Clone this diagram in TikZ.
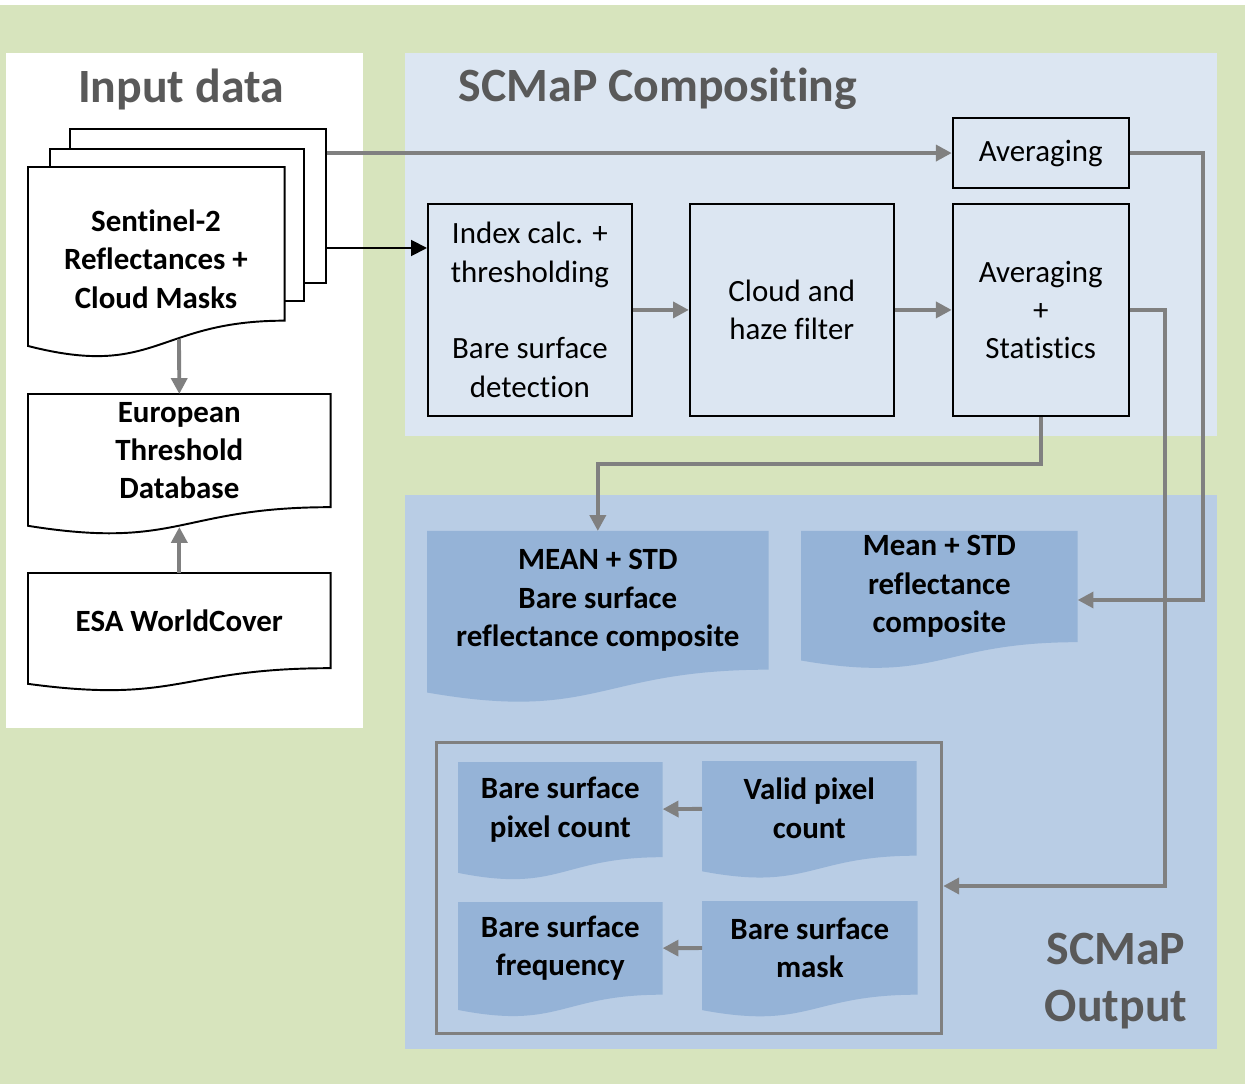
\documentclass[tikz,border=0pt]{standalone}
\usepackage{fontspec}
\setmainfont{Carlito}[Ligatures={NoCommon}]
\usetikzlibrary{positioning, arrows.meta, calc}
\pgfdeclarelayer{panels}
\pgfdeclarelayer{docs}
\pgfsetlayers{panels,docs,main}

\definecolor{bggreen}{HTML}{D7E4BD}
\definecolor{compblue}{HTML}{DCE6F2}
\definecolor{outblue}{HTML}{B9CDE5}
\definecolor{docblue}{HTML}{95B3D7}
\definecolor{arrgray}{HTML}{808080}
\definecolor{titgray}{HTML}{595959}

\tikzset{
	txt/.style={font=\fontsize{17.6}{21.8}\selectfont, align=center, inner sep=0pt},
	boldtxt/.style={txt, font=\fontsize{17.6}{21.8}\selectfont\bfseries},
	headtxt/.style={font=\fontsize{27.2}{32.3}\selectfont\bfseries, text=titgray, align=center, inner sep=0pt},
	proc/.style={txt, draw, line width=1.1pt, minimum width=4.08cm, minimum height=4.24cm},
	docbox/.style={boldtxt, anchor=north west},
	sheet/.style={draw, line width=1.1pt, fill=white, anchor=north west, inner sep=0pt},
	docline/.style={draw, line width=1.1pt, fill=white},
	docfill/.style={fill=docblue},
	arr/.style={arrgray, line width=2.2pt, -{Triangle[length=9pt,width=9pt]}},
	arrk/.style={black, line width=1.1pt, -{Triangle[length=9pt,width=9pt]}}
}

% document shape with wavy bottom below a node
\newcommand\docwave[2]{%
	\path[#2] (#1.north west) -- (#1.north east) -- (#1.south east)
		.. controls (#1.south) and ($(#1.south)!-0.38!(#1.north)$)
		.. ($(#1.south west)!-0.1646!(#1.north west)$) -- cycle;}

\begin{document}
\begin{tikzpicture}[x=0.02cm, y=-0.02cm]
	\useasboundingbox (0,0) rectangle (1245,1084);
	\begin{pgfonlayer}{panels}
		\fill[white] (0,0) rectangle (1245,1084);
		\fill[bggreen] (0,5) rectangle (1245,1084);
		\fill[white] (6,53) rectangle (363,728);
		\fill[compblue] (405,53) rectangle (1217,436);
		\fill[outblue] (405,495) rectangle (1217,1049);
	\end{pgfonlayer}

	% titles
	\node[headtxt] (tin) at (181,89) {Input data};
	\node[headtxt] (tcomp) at (658,89) {SCMaP Compositing};
	\node[headtxt] (tout) at (1116,981) {SCMaP\\Output};

	% input data
	\node[docbox, minimum width=5.12cm, minimum height=3.06cm] (sen) at (28,167) {};
	\node[boldtxt] (sentxt) at (156,259) {Sentinel-2\\Reflectances +\\Cloud Masks};
	\node[docbox, minimum width=6.04cm, minimum height=2.25cm] (eur) at (28,394) {European\\Threshold\\Database};
	\node[docbox, minimum width=6.04cm, minimum height=1.89cm] (esa) at (28,573) {ESA WorldCover};

	% compositing
	\node[proc, anchor=north west] (idx) at (427,203) {Index calc. +\\thresholding\\[21.8pt]Bare surface\\detection};
	\node[proc, right=1.12cm of idx] (cloud) {Cloud and\\haze filter};
	\node[proc, minimum width=3.52cm, right=1.14cm of cloud] (avgst) {Averaging\\+\\Statistics};
	\node[proc, minimum width=3.52cm, minimum height=1.4cm, above=0.28cm of avgst] (avg1) {Averaging};

	% output
	\node[docbox, minimum width=6.82cm, minimum height=2.76cm] (mean) at (427,531) {MEAN + STD\\Bare surface\\reflectance composite};
	\node[docbox, minimum width=5.52cm, minimum height=2.21cm] (msd) at (801,531) {Mean + STD\\reflectance\\composite};
	\node[draw=arrgray, line width=1.9pt, minimum width=10.1cm, minimum height=5.82cm, anchor=north west, inner sep=0pt] (frame) at (435,741) {};
	\node[docbox, minimum width=4.08cm, minimum height=1.89cm] (bpc) at (458,762) {Bare surface\\pixel count};
	\node[docbox, minimum width=4.28cm, minimum height=1.88cm] (valid) at (702,761) {Valid pixel\\count};
	\node[docbox, minimum width=4.08cm, minimum height=1.84cm] (freq) at (458,902) {Bare surface\\frequency};
	\node[docbox, minimum width=4.3cm, minimum height=1.86cm] (mask) at (702,901) {Bare surface\\mask};

	\begin{pgfonlayer}{docs}
		\node[sheet, minimum width=5.12cm, minimum height=3.08cm] (s3) at (69,128) {};
		\node[sheet, minimum width=5.08cm, minimum height=3.04cm] (s2) at (49,148) {};
		\docwave{sen}{docline}
		\docwave{eur}{docline}
		\docwave{esa}{docline}
		\foreach \d in {mean,msd,bpc,valid,freq,mask} {\docwave{\d}{docfill}}
	\end{pgfonlayer}

	% connectors
	\coordinate (inS) at (325,248);
	\coordinate (senB) at (179,339);
	\coordinate (r1) at (1203,600);
	\coordinate (r2) at (1165,886);
	\draw[arrk] (inS) -- (inS -| idx.west);
	\draw[arr] (s3.east |- avg1.west) -- (avg1.west);
	\draw[arr] (senB) -- (eur.north);
	\draw[arr] (esa.north) -- ++(0,-46);
	\draw[arr] (idx) -- (cloud);
	\draw[arr] (cloud) -- (avgst);
	\draw[arr] (avg1.east) -| (r1) -- (r1 -| msd.east);
	\draw[arr] (avgst.east) -| (r2) -- (r2 -| frame.east);
	\draw[arr] (avgst.south) -- ++(0,47) -| (mean.north);
	\draw[arr] (valid) -- (bpc);
	\draw[arr] (mask) -- (freq);
\end{tikzpicture}
\end{document}
